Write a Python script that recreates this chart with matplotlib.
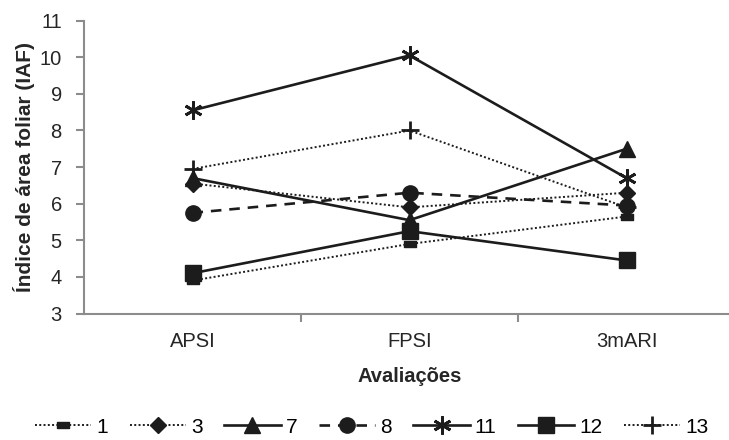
import numpy as np
import matplotlib
matplotlib.use("Agg")
import matplotlib.pyplot as plt
from matplotlib.path import Path

plt.rcParams['font.family'] = ['Liberation Sans', 'DejaVu Sans']

# avaliacoes
avaliacoes = ['APSI', 'FPSI', '3mARI']

# indice de area foliar por tratamento
iaf_1 = [3.90, 4.90, 5.65]
iaf_3 = [6.55, 5.90, 6.30]
iaf_7 = [6.70, 5.55, 7.50]
iaf_8 = [5.75, 6.30, 5.95]
iaf_11 = [8.55, 10.05, 6.70]
iaf_12 = [4.10, 5.25, 4.45]
iaf_13 = [6.95, 8.00, 5.90]

preto = '#1c1c1c'
cinza = '#8c8c8c'
texto = '#262626'

# marcador retangular pequeno (serie 1)
retangulo = Path([(-1, -0.55), (1, -0.55), (1, 0.55), (-1, 0.55), (-1, -0.55)],
                 [Path.MOVETO, Path.LINETO, Path.LINETO, Path.LINETO, Path.CLOSEPOLY])

fig = plt.figure(figsize=(7.29, 4.40), dpi=100)
ax = fig.add_axes([84/729, 126.5/440, 651/729, 292.8/440])

x = np.arange(len(avaliacoes))

ax.plot(x, iaf_1, linestyle=(0, (1, 1.2)), lw=1.4, color=preto, marker=retangulo,
        markersize=8, label='1')
ax.plot(x, iaf_3, linestyle=(0, (1, 1.2)), lw=1.4, color=preto, marker='D',
        markersize=8, label='3')
ax.plot(x, iaf_7, linestyle='-', lw=1.9, color=preto, marker='^',
        markersize=11, label='7')
ax.plot(x, iaf_8, linestyle=(0, (4, 3)), lw=1.9, color=preto, marker='o',
        markersize=11, label='8')
ax.plot(x, iaf_11, linestyle='-', lw=1.9, color=preto, marker=(6, 2, 0),
        markersize=13, markeredgewidth=2, label='11')
ax.plot(x, iaf_12, linestyle='-', lw=1.9, color=preto, marker='s',
        markersize=11, label='12')
ax.plot(x, iaf_13, linestyle=(0, (1, 1.2)), lw=1.4, color=preto, marker='+',
        markersize=13, markeredgewidth=2, label='13')

ax.set_xlim(-0.5, 2.5)
ax.set_ylim(3, 11)
ax.set_yticks(range(3, 12))
ax.set_xticks(x)
ax.set_xticklabels(avaliacoes)
ax.set_xticks([0.5, 1.5], minor=True)

for s in ['top', 'right']:
    ax.spines[s].set_visible(False)
for s in ['left', 'bottom']:
    ax.spines[s].set_color(cinza)
    ax.spines[s].set_linewidth(1.5)
ax.spines['bottom'].set_zorder(0)

ax.tick_params(axis='y', direction='out', length=6, width=1.5, color=cinza,
               labelsize=14.5, labelcolor=texto, pad=10)
ax.tick_params(axis='x', which='major', length=0, labelsize=14.5,
               labelcolor=texto, pad=13)
ax.tick_params(axis='x', which='minor', direction='out', length=6, width=1.5,
               color=cinza)

ax.set_ylabel('Índice de área foliar (IAF)', fontsize=15, fontweight='bold',
              color=texto, labelpad=3)
ax.set_xlabel('Avaliações', fontsize=14.5, fontweight='bold', color=texto,
              labelpad=12)

ax.legend(loc='lower center', bbox_to_anchor=((372 - 84)/651, -123/292.8), ncol=7,
          frameon=False, fontsize=15, handlelength=2.7, columnspacing=1.03,
          handletextpad=0.25, borderaxespad=0, borderpad=0)

fig.savefig('out.png', dpi=100)
